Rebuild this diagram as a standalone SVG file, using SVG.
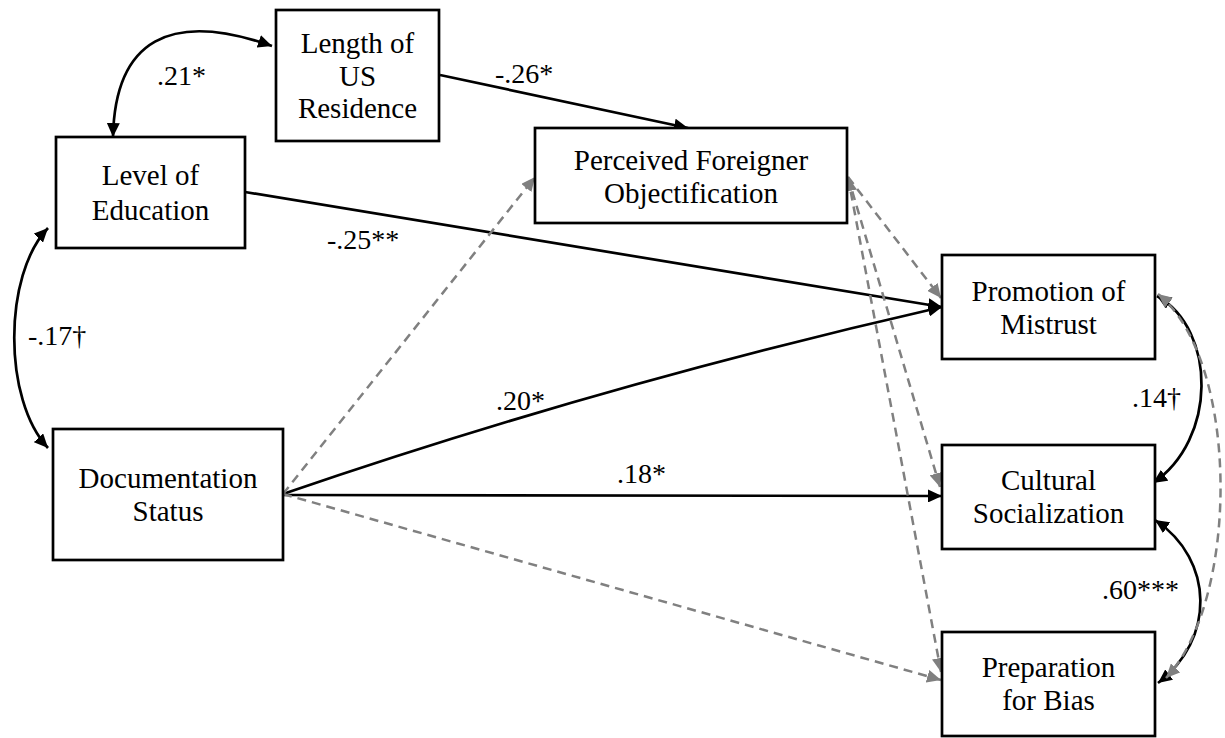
<svg xmlns="http://www.w3.org/2000/svg" width="1225" height="738" viewBox="0 0 1225 738">
<style>
.box{fill:#fff;stroke:#000;stroke-width:2.7}
.t{font-family:"Liberation Serif","Times New Roman",serif;font-size:29px;fill:#000;text-anchor:middle}
.lbl{font-family:"Liberation Serif","Times New Roman",serif;font-size:28px;fill:#000}
.solid{fill:none;stroke:#000;stroke-width:2.7}
.dash{fill:none;stroke:#808080;stroke-width:2.5;stroke-dasharray:9 6}
</style>
<defs>
<marker id="ab" markerUnits="userSpaceOnUse" markerWidth="15" markerHeight="13" refX="14" refY="6.5" orient="auto-start-reverse">
<path d="M0,0 L14,6.5 L0,13 z" fill="#000"/>
</marker>
<marker id="ag" markerUnits="userSpaceOnUse" markerWidth="15" markerHeight="13" refX="14" refY="6.5" orient="auto-start-reverse">
<path d="M0,0 L14,6.5 L0,13 z" fill="#808080"/>
</marker>
</defs>
<g id="connectors">
<path class="solid" d="M113,137 C115,40 170,10 272,46" marker-start="url(#ab)" marker-end="url(#ab)"/>
<path class="solid" d="M48,228 C3,275 3,400 48,448" marker-start="url(#ab)" marker-end="url(#ab)"/>
<path class="solid" d="M440,75 L688,128" marker-end="url(#ab)"/>
<path class="solid" d="M245,192 L942,307" marker-end="url(#ab)"/>
<path class="solid" d="M283,494 Q600,385 942,307" marker-end="url(#ab)"/>
<path class="solid" d="M283,495 L942,496" marker-end="url(#ab)"/>
<path class="dash" d="M283,494 L535,177" marker-end="url(#ag)"/>
<path class="dash" d="M283,494 L941,680" marker-end="url(#ag)"/>
<path class="dash" d="M848,177 L941,298" marker-end="url(#ag)"/>
<path class="dash" d="M848,177 L940,487" marker-end="url(#ag)"/>
<path class="dash" d="M848,177 L941,672" marker-start="url(#ag)" marker-end="url(#ag)"/>
<path class="solid" d="M1157,296 C1217,330 1217,440 1153,483" marker-start="url(#ab)" marker-end="url(#ab)"/>
<path class="solid" d="M1155,520 C1215,560 1215,640 1158,683" marker-start="url(#ab)" marker-end="url(#ab)"/>
<path class="dash" d="M1158,294 C1240,360 1240,600 1166,678" marker-start="url(#ag)" marker-end="url(#ag)"/>
<text class="lbl" x="157" y="85">.21*</text>
<text class="lbl" x="495" y="83">-.26*</text>
<text class="lbl" x="327" y="249">-.25**</text>
<text class="lbl" x="28" y="345">-.17†</text>
<text class="lbl" x="496" y="410">.20*</text>
<text class="lbl" x="617" y="483">.18*</text>
<text class="lbl" x="1132" y="407">.14†</text>
<text class="lbl" x="1102" y="599">.60***</text>
</g>
<g id="length">
<rect class="box" x="276" y="10" width="163" height="131"/>
<text class="t" x="357.5" y="53">Length of</text>
<text class="t" x="357.5" y="86">US</text>
<text class="t" x="357.5" y="118">Residence</text>
</g>
<g id="education">
<rect class="box" x="56" y="137" width="189" height="111"/>
<text class="t" x="150.5" y="185">Level of</text>
<text class="t" x="150.5" y="220">Education</text>
</g>
<g id="perceived">
<rect class="box" x="535" y="128" width="312" height="95"/>
<text class="t" x="691" y="170">Perceived Foreigner</text>
<text class="t" x="691" y="203">Objectification</text>
</g>
<g id="documentation">
<rect class="box" x="53" y="429" width="230" height="131"/>
<text class="t" x="168" y="488">Documentation</text>
<text class="t" x="168" y="521">Status</text>
</g>
<g id="mistrust">
<rect class="box" x="942" y="255" width="213" height="104"/>
<text class="t" x="1048.5" y="301">Promotion of</text>
<text class="t" x="1048.5" y="334">Mistrust</text>
</g>
<g id="cultural">
<rect class="box" x="942" y="445" width="213" height="104"/>
<text class="t" x="1048.5" y="490">Cultural</text>
<text class="t" x="1048.5" y="523">Socialization</text>
</g>
<g id="bias">
<rect class="box" x="942" y="632" width="213" height="104"/>
<text class="t" x="1048.5" y="677">Preparation</text>
<text class="t" x="1048.5" y="710">for Bias</text>
</g>
</svg>
